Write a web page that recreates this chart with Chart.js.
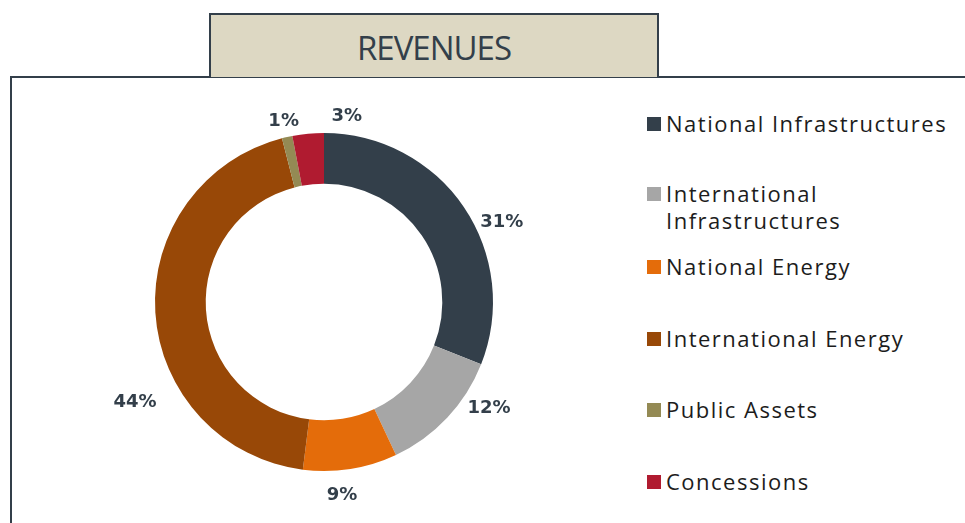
<!DOCTYPE html>
<html>
<head>
<meta charset="utf-8">
<script src="https://cdn.jsdelivr.net/npm/chart.js@4.4.1/dist/chart.umd.min.js"></script>
<style>
  html, body { margin: 0; padding: 0; background: #fff; }
  #stage { position: relative; width: 965px; height: 523px; overflow: hidden; }
  #frame {
    position: absolute; left: 10px; top: 76px; width: 980px; height: 480px;
    border-left: 2px solid #333f4a; border-top: 2px solid #333f4a;
  }
  #titleBox {
    position: absolute; left: 209px; top: 13px; width: 446px; height: 62px;
    background: #ddd8c3; border: 2px solid #333f4a; border-bottom: none;
    text-align: center; font-family: "Open Sans", sans-serif; font-size: 33px;
    color: #333f4a; line-height: 66px; letter-spacing: -1px;
  }
  #chartWrap { position: absolute; left: 84px; top: 82px; width: 480px; height: 440px; }
  #legend { position: absolute; left: 647px; top: 0; font-family: "Open Sans", sans-serif; }
  .item { position: absolute; left: 0; white-space: nowrap; }
  .sw { position: absolute; left: 0; width: 14px; height: 14px; }
  .txt { position: absolute; left: 19px; font-size: 22px; line-height: 27px; color: #1c1c1c; letter-spacing: 1.5px; }
</style>
</head>
<body>
<div id="stage">
  <div id="frame"></div>
  <div id="titleBox">REVENUES</div>
  <div id="chartWrap"><canvas id="chart" width="480" height="440"></canvas></div>
  <div id="legend"></div>
</div>
<script>
"use strict";

/* ============================================================
   DATA
============================================================ */
const segments = ['National Infrastructures', 'International Infrastructures', 'National Energy',
                  'International Energy', 'Public Assets', 'Concessions'];
const legendLines = [['National Infrastructures'], ['International', 'Infrastructures'], ['National Energy'],
                     ['International Energy'], ['Public Assets'], ['Concessions']];
const shares = [31, 12, 9, 44, 1, 3];
const sliceColors = ['#333f4a', '#a6a6a6', '#e46c0a', '#984807', '#948a54', '#b01b30'];

// label nudges: [angle shift in degrees from slice middle, distance from centre]
const labelNudge = [[10, 195], [-10.5, 196], [3.7, 194], [-24.4, 214], [0, 185], [12.4, 187]];

/* ============================================================
   LEGEND (html)
============================================================ */
const legendTops = [123, 207, 266, 338, 409, 481];
const legendDiv = document.getElementById('legend');
segments.forEach((name, i) => {
  const lines = legendLines[i];
  const item = document.createElement('div');
  item.className = 'item';
  const firstLineCenter = legendTops[i] - (lines.length - 1) * 13.5;
  item.style.top = (firstLineCenter - 13.5) + 'px';
  item.innerHTML = `<div class="sw" style="background:${sliceColors[i]};top:7px"></div>
    <div class="txt">${lines.join('<br>')}</div>`;
  legendDiv.appendChild(item);
});

/* ============================================================
   OUTSIDE LABELS PLUGIN
============================================================ */
const outsideLabels = {
  id: 'outsideLabels',
  afterDatasetsDraw(chart) {
    const ctx = chart.ctx;
    const meta = chart.getDatasetMeta(0);
    ctx.save();
    ctx.font = 'bold 18px "DejaVu Sans", sans-serif';
    ctx.fillStyle = '#333f4a';
    ctx.textAlign = 'center';
    ctx.textBaseline = 'middle';
    meta.data.forEach((arc, i) => {
      const p = arc.getProps(['x', 'y', 'startAngle', 'endAngle'], true);
      const mid = (p.startAngle + p.endAngle) / 2 + labelNudge[i][0] * Math.PI / 180;
      const r = labelNudge[i][1];
      ctx.fillText(shares[i] + '%', p.x + Math.cos(mid) * r, p.y + Math.sin(mid) * r);
    });
    ctx.restore();
  }
};

/* ============================================================
   CHART
============================================================ */
new Chart(document.getElementById('chart').getContext('2d'), {
  type: 'doughnut',
  data: {
    labels: segments,
    datasets: [{
      data: shares,
      backgroundColor: sliceColors,
      borderWidth: 0,
      hoverOffset: 0
    }]
  },
  options: {
    responsive: false,
    animation: false,
    cutout: '70%',
    layout: { padding: { left: 71, right: 71, top: 51, bottom: 51 } },
    plugins: {
      legend: { display: false },
      tooltip: { enabled: false }
    }
  },
  plugins: [outsideLabels]
});
</script>
</body>
</html>
